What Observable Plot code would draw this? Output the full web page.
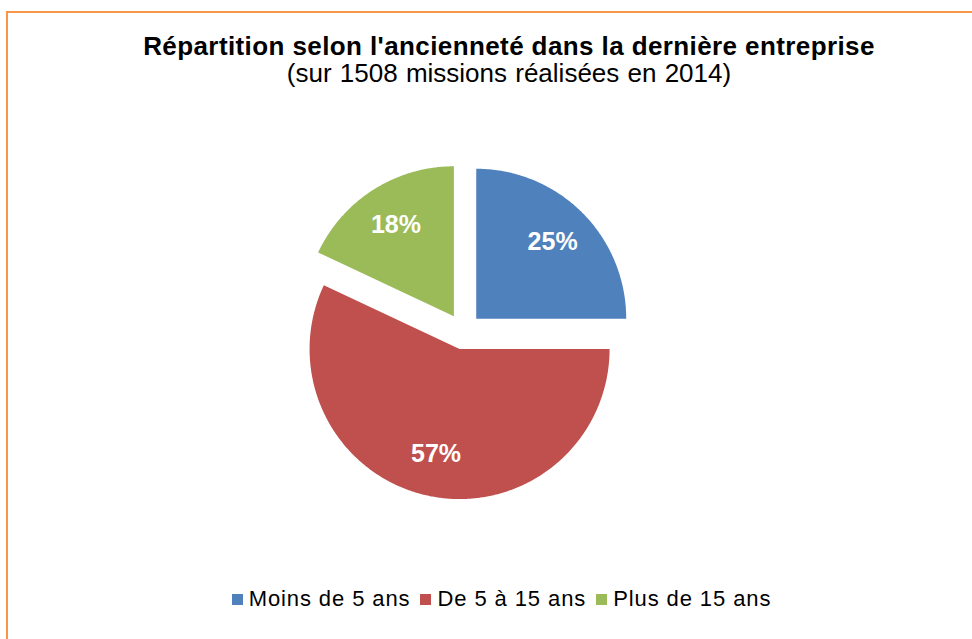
<!DOCTYPE html>
<html><head><meta charset="utf-8">
<script src="https://cdn.jsdelivr.net/npm/d3@7"></script>
<script src="https://cdn.jsdelivr.net/npm/@observablehq/plot@0.6"></script>
<style>
html,body{margin:0;padding:0;background:#fff;width:972px;height:639px;overflow:hidden;}
#frame{position:absolute;left:6px;top:11px;width:1100px;height:700px;border-top:2px solid #F79646;border-left:2px solid #F79646;box-sizing:border-box;}
.t{position:absolute;left:0;width:1018px;text-align:center;font-family:"Liberation Sans",Arial,sans-serif;color:#000;white-space:nowrap;}
#title{top:31px;font-size:26px;font-weight:bold;line-height:30px;letter-spacing:0.4px;}
#subtitle{top:58px;font-size:26px;line-height:30px;word-spacing:1px;}
#chart{position:absolute;left:263px;top:131px;}
#legend{position:absolute;top:586px;left:0;width:1003px;display:flex;justify-content:center;align-items:center;font-family:"Liberation Sans",Arial,sans-serif;font-size:22px;line-height:26px;letter-spacing:0.9px;color:#000;white-space:nowrap;}
.item{display:flex;align-items:center;margin:0 5px;}
.sw{width:11px;height:11px;margin-right:6px;}
</style>
</head><body>
<div id="frame"></div>
<div id="title" class="t">Répartition selon l'ancienneté dans la dernière entreprise</div>
<div id="subtitle" class="t">(sur 1508 missions réalisées en 2014)</div>
<div id="chart"></div>
<div id="legend"></div>
<script>
const categories = ["Moins de 5 ans", "De 5 à 15 ans", "Plus de 15 ans"];
const shares = [25, 57, 18];
const colors = ["#4F81BD", "#C0504D", "#9BBB59"];

const R = 150, explode = 18, labelR = 0.72 * R;
const arcs = d3.pie().sort(null).startAngle(0).endAngle(2 * Math.PI)(shares);
const points = [];
const labels = [];
arcs.forEach((a, i) => {
  const mid = (a.startAngle + a.endAngle) / 2;
  const ox = explode * Math.sin(mid), oy = explode * Math.cos(mid);
  points.push({cat: categories[i], x: ox, y: oy});
  const n = Math.ceil((a.endAngle - a.startAngle) / (Math.PI / 360));
  for (let k = 0; k <= n; k++) {
    const t = a.startAngle + (a.endAngle - a.startAngle) * k / n;
    points.push({cat: categories[i], x: ox + R * Math.sin(t), y: oy + R * Math.cos(t)});
  }
  labels.push({cat: categories[i], x: ox + labelR * Math.sin(mid), y: oy + labelR * Math.cos(mid), text: shares[i] + "%"});
});

const plot = Plot.plot({
  width: 400, height: 400,
  marginTop: 0, marginRight: 0, marginBottom: 0, marginLeft: 0,
  x: {domain: [-200, 200], axis: null},
  y: {domain: [-200, 200], axis: null},
  color: {domain: categories, range: colors},
  marks: [
    Plot.line(points, {x: "x", y: "y", z: "cat", fill: "cat", stroke: "none", curve: "linear-closed"}),
    Plot.text(labels, {x: "x", y: "y", text: "text", fill: "white", fontSize: 25, fontWeight: "bold", fontFamily: "Liberation Sans, Arial, sans-serif"})
  ]
});
document.getElementById("chart").appendChild(plot);

const legend = document.getElementById("legend");
categories.forEach((c, i) => {
  const it = document.createElement("div");
  it.className = "item";
  const sw = document.createElement("div");
  sw.className = "sw";
  sw.style.background = colors[i];
  const tx = document.createElement("span");
  tx.textContent = c;
  it.appendChild(sw); it.appendChild(tx);
  legend.appendChild(it);
});
</script>
</body></html>
